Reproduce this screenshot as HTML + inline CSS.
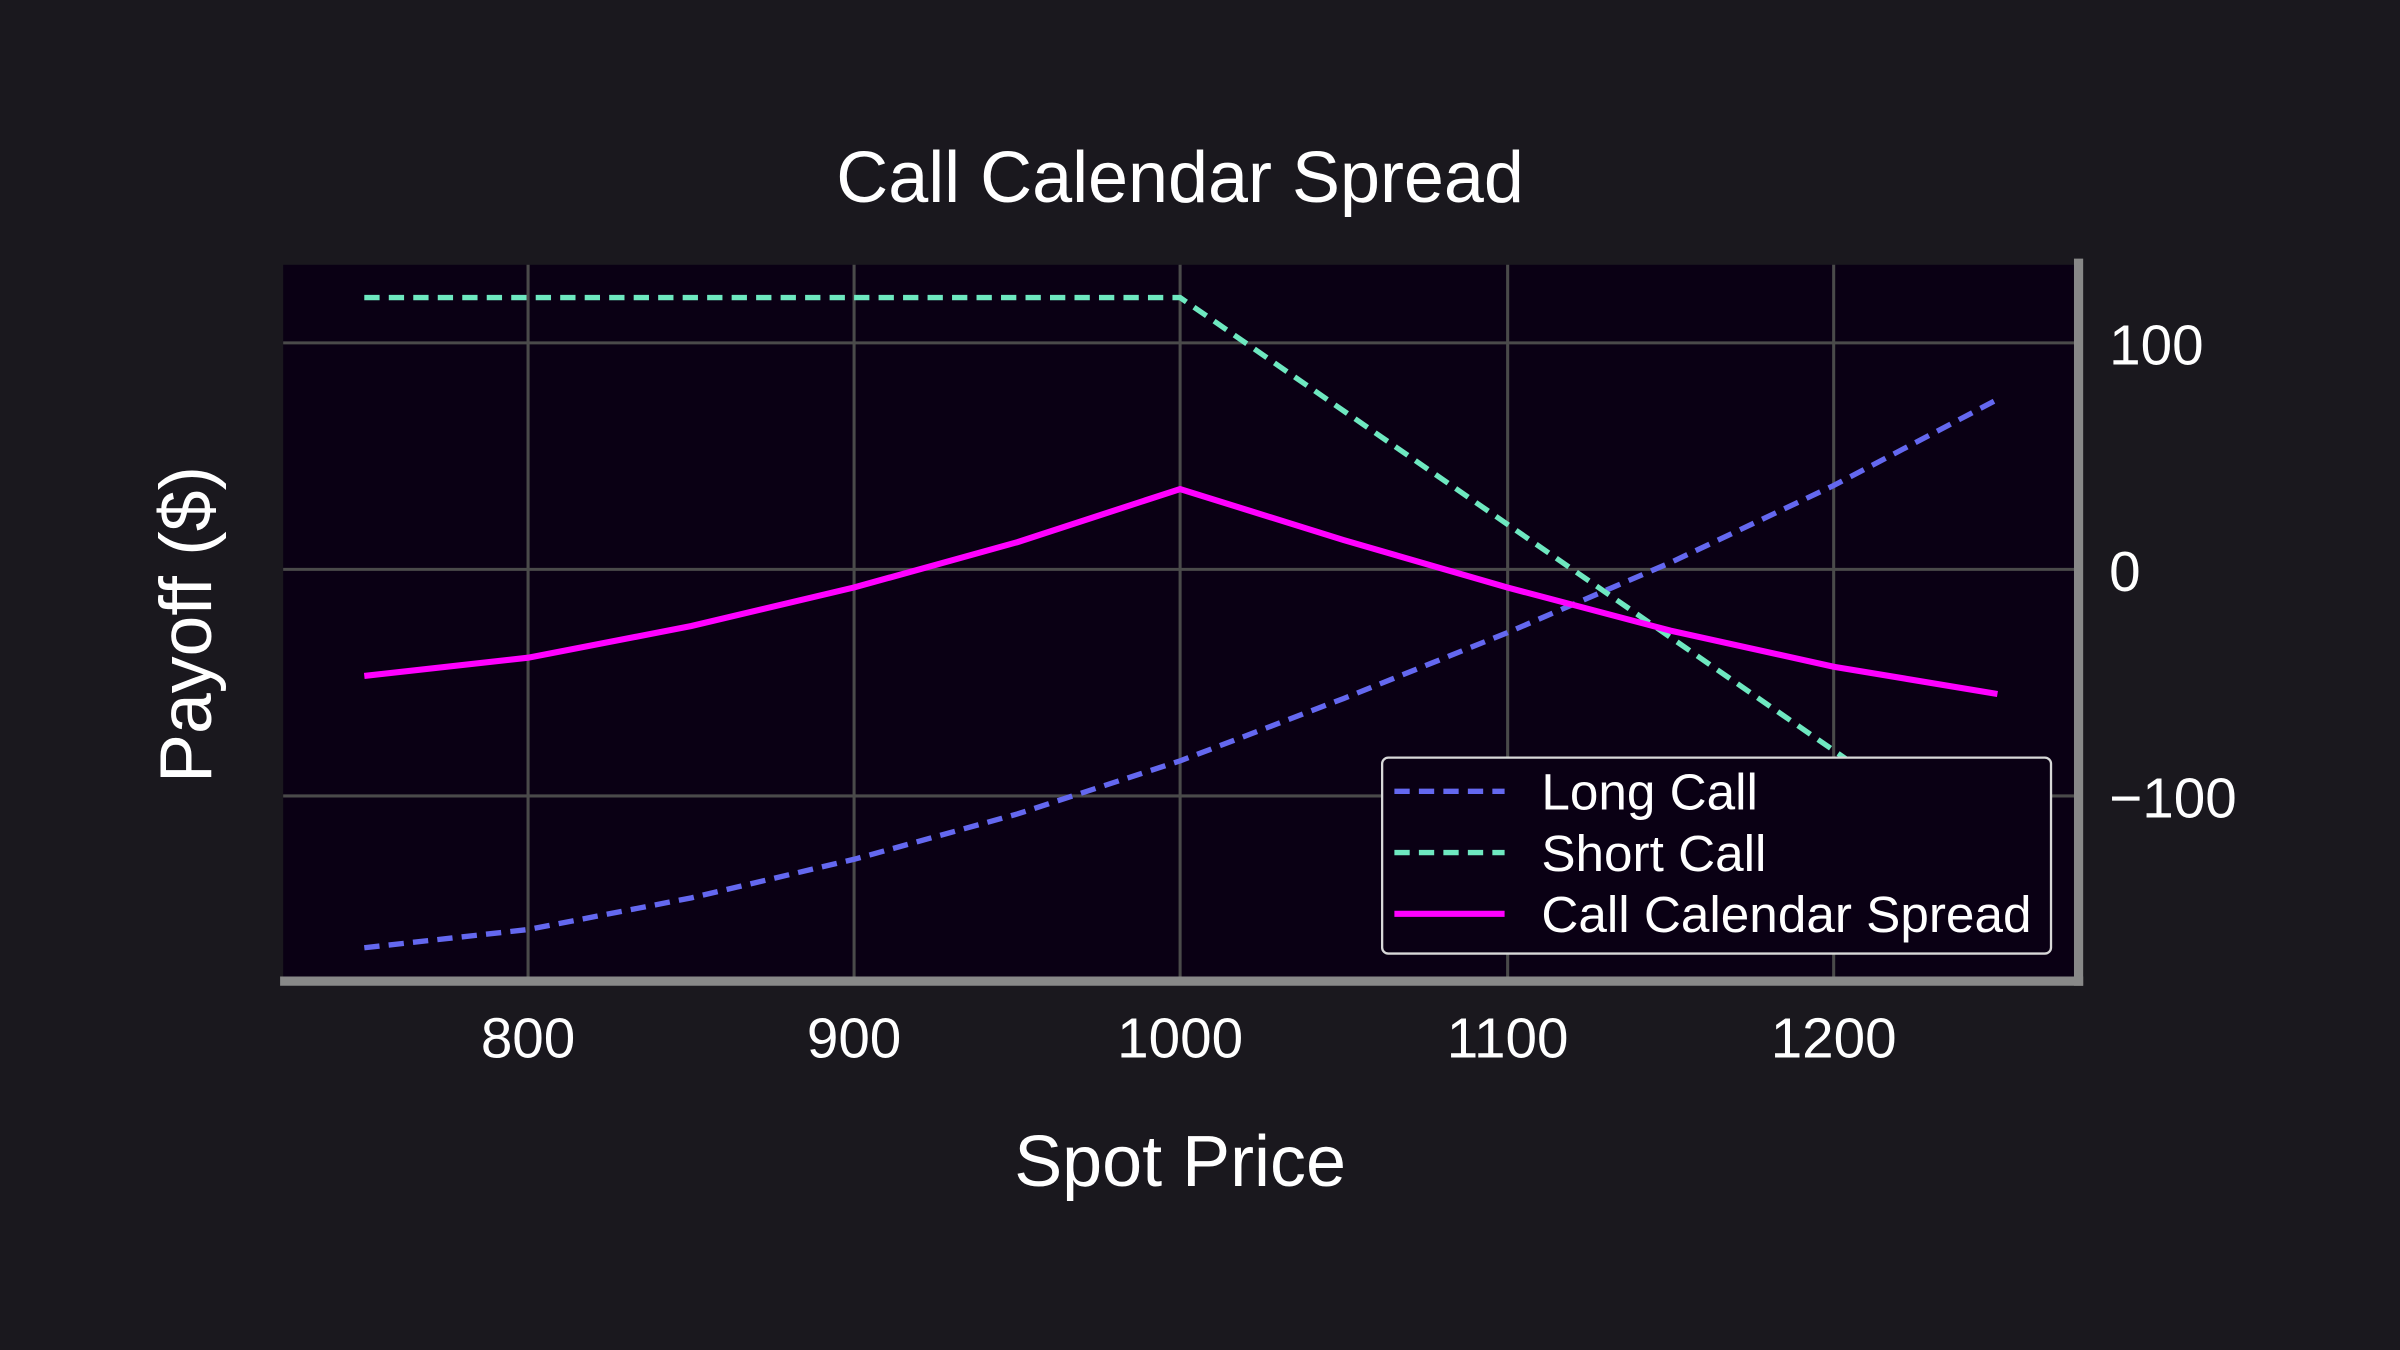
<!DOCTYPE html>
<html><head><meta charset="utf-8"><style>html,body{margin:0;padding:0;background:#1a181e;}svg{display:block;}</style></head>
<body>
<svg width="2400" height="1350" viewBox="0 0 1568 882" xmlns="http://www.w3.org/2000/svg" font-family="Liberation Sans, sans-serif">
<rect width="1568" height="882" fill="#1a181e"/>
<rect x="185" y="173" width="1172" height="467" fill="#0a0014"/>
<g stroke="#4a4a4a" stroke-width="2">
<line x1="345" y1="173" x2="345" y2="640"/><line x1="558" y1="173" x2="558" y2="640"/><line x1="771" y1="173" x2="771" y2="640"/><line x1="985" y1="173" x2="985" y2="640"/><line x1="1198" y1="173" x2="1198" y2="640"/>
<line x1="185" y1="224" x2="1357" y2="224"/><line x1="185" y1="372" x2="1357" y2="372"/><line x1="185" y1="520" x2="1357" y2="520"/>
</g>
<g fill="none" stroke-width="3.5">
<polyline stroke="#6468f0" stroke-dasharray="10,6" points="238,619.2 345,607.3 451.7,586.6 558,561.4 664.7,531.8 771,497.1 877.7,456.4 984.7,413.4 1091.3,367.6 1198,317.2 1305,261"/>
<polyline stroke="#6ee8c0" stroke-dasharray="10,6" points="238,194.4 771,194.4 1305,564.4"/>
<polyline stroke="#ff00ff" stroke-width="4" points="238,441.6 345,429.7 451.7,409 558,383.8 664.7,354.2 771,319.5 877.7,352.8 984.7,383.8 1091.3,412 1198,435.6 1305,453.4"/>
</g>
<line x1="183" y1="641" x2="1361" y2="641" stroke="#888" stroke-width="6"/>
<line x1="1358" y1="169" x2="1358" y2="644" stroke="#888" stroke-width="6"/>
<g fill="#ffffff" font-size="37">
<text x="345" y="691" text-anchor="middle">800</text>
<text x="558" y="691" text-anchor="middle">900</text>
<text x="771" y="691" text-anchor="middle">1000</text>
<text x="985" y="691" text-anchor="middle">1100</text>
<text x="1198" y="691" text-anchor="middle">1200</text>
<text x="1378" y="238">100</text>
<text x="1378" y="386">0</text>
<text x="1378" y="534">−100</text>
</g>
<text x="771" y="132" fill="#fff" font-size="47" text-anchor="middle">Call Calendar Spread</text>
<text x="771" y="775" fill="#fff" font-size="47" text-anchor="middle">Spot Price</text>
<text transform="translate(138,408) rotate(-90)" fill="#fff" font-size="48" text-anchor="middle">Payoff ($)</text>
<rect x="903" y="495" width="437" height="128" rx="4" fill="#0a0014" stroke="#d8d8d8" stroke-width="1.5"/>
<line x1="911" y1="517" x2="983" y2="517" stroke="#6468f0" stroke-width="3.5" stroke-dasharray="10,6"/>
<line x1="911" y1="557" x2="983" y2="557" stroke="#6ee8c0" stroke-width="3.5" stroke-dasharray="10,6"/>
<line x1="911" y1="597" x2="983" y2="597" stroke="#ff00ff" stroke-width="4"/>
<g fill="#fff" font-size="33.5">
<text x="1007" y="529">Long Call</text>
<text x="1007" y="569">Short Call</text>
<text x="1007" y="609">Call Calendar Spread</text>
</g>
</svg>
</body></html>
